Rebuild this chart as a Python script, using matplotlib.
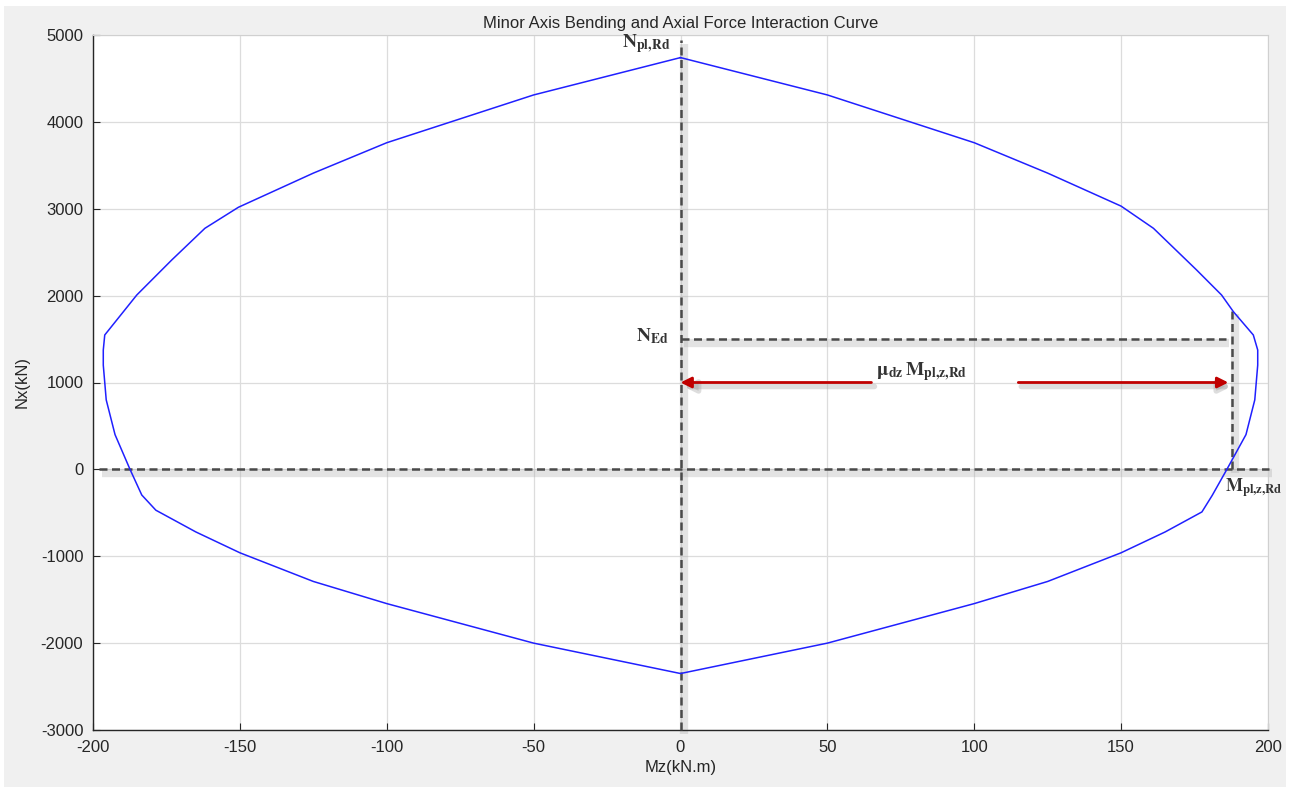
import matplotlib
matplotlib.use("Agg")
import matplotlib.pyplot as plt
from matplotlib.patches import Rectangle
import matplotlib.transforms as mtransforms

# ---- data ----
mz_curve = [0, 50, 100, 125, 150, 161, 175.7, 184.2, 188.2, 195, 196.5, 196.5, 195.5, 192.5, 186,
            181, 177.5, 165, 150, 125, 100, 50, 0,
            -50, -100, -125, -150, -165, -178.6, -183.4, -187.4, -192.5, -195.5, -196.5, -196.5,
            -196, -185.1, -173.2, -161.9, -150.5, -125, -100, -50, 0]
nx_curve = [4740, 4310, 3760, 3410, 3030, 2775, 2295, 2007, 1816, 1547, 1374, 1200, 800, 400, 0,
            -300, -490, -720, -960, -1290, -1545, -2000, -2350,
            -2000, -1545, -1290, -960, -720, -470, -295, 0, 400, 800, 1200, 1374,
            1547, 2007, 2410, 2775, 3017, 3410, 3760, 4310, 4740]

n_ed = 1500
n_arrow = 1000
m_ed_line_end = 185.7
m_vert = 187.8
n_vert_top = 1835
m_arrow_left_start = 65
m_arrow_right_start = 115
m_arrow_right_end = 186.5

x_ticks = [-200, -150, -100, -50, 0, 50, 100, 150, 200]
y_ticks = [-3000, -2000, -1000, 0, 1000, 2000, 3000, 4000, 5000]

title = "Minor Axis Bending and Axial Force Interaction Curve"
xlabel = "Mz(kN.m)"
ylabel = "Nx(kN)"

plt.rcParams['font.family'] = ['Liberation Sans', 'DejaVu Sans']
plt.rcParams['mathtext.fontset'] = 'stix'
plt.rcParams['axes.unicode_minus'] = False

W, H = 1289, 793
fig = plt.figure(figsize=(W / 100, H / 100), dpi=100, facecolor='white')
fig.patches.append(Rectangle((4 / W, 6 / H), (1286 - 4) / W, (787 - 6) / H,
                             transform=fig.transFigure, facecolor='#f0f0f0',
                             edgecolor='none', zorder=-10))
ax = fig.add_axes([93 / W, 1 - 730 / H, (1268 - 93) / W, (730 - 35) / H])
ax.set_facecolor('white')

ax.set_xlim(-200, 200)
ax.set_ylim(-3000, 5000)
ax.set_xticks(x_ticks)
ax.set_yticks(y_ticks)
ax.grid(True, color='#dcdcdc', linewidth=0.9)
ax.set_axisbelow(True)
ax.tick_params(direction='in', length=5, width=0.8, labelsize=12, labelcolor='#262626',
               colors='#262626', top=False, right=False, pad=7)
for s in ['left', 'bottom']:
    ax.spines[s].set_color('#262626')
    ax.spines[s].set_linewidth(1.0)
for s in ['top', 'right']:
    ax.spines[s].set_color('#d0d0d0')
    ax.spines[s].set_linewidth(0.8)

ax.set_title(title, fontsize=12, color='#262626', pad=5)
ax.set_xlabel(xlabel, fontsize=12, color='#262626', labelpad=4)
ax.set_ylabel(ylabel, fontsize=12, color='#262626', labelpad=8)

shadow = mtransforms.offset_copy(ax.transData, fig=fig, x=3, y=-4, units='dots')


def dline(xs, ys):
    ax.plot(xs, ys, color='#b0b0b0', lw=6, alpha=0.35, solid_capstyle='butt',
            transform=shadow, zorder=2, clip_on=False)
    ax.plot(xs, ys, color='#4a4a4a', lw=1.8, linestyle=(0, (3.2, 1.8)), zorder=3,
            clip_on=False)


# axes dashed lines
dline([-198, 200.5], [0, 0])
dline([0, 0], [-3000, 5000 - 60])
dline([0, m_ed_line_end], [n_ed, n_ed])
dline([m_vert, m_vert], [0, n_vert_top])

# curve
ax.plot(mz_curve, nx_curve, color='#2020ff', lw=1.1, zorder=4)

# arrows
for x0, x1 in [(m_arrow_left_start, 0), (m_arrow_right_start, m_arrow_right_end)]:
    ax.annotate('', xy=(x1, n_arrow), xytext=(x0, n_arrow),
                xycoords=shadow, textcoords=shadow,
                arrowprops=dict(arrowstyle='-|>', color='#a0a0a0', lw=4, alpha=0.35,
                                mutation_scale=16, shrinkA=0, shrinkB=0), zorder=4)
    ax.annotate('', xy=(x1, n_arrow), xytext=(x0, n_arrow),
                arrowprops=dict(arrowstyle='-|>', color='#c00000', lw=2,
                                mutation_scale=16, shrinkA=0, shrinkB=0), zorder=5)

lab_color = '#333333'
ax.text(-3.5, 4860, r'$\mathbf{N}_{\mathbf{pl{,}Rd}}$', fontsize=14, color=lab_color,
        ha='right', va='baseline', zorder=6)
ax.text(-4, 1470, r'$\mathbf{N}_{\mathbf{Ed}}$', fontsize=14, color=lab_color,
        ha='right', va='baseline', zorder=6)
ax.text(82, 1080, r'$\mathbf{\mu}_{\mathbf{dz}}\,\mathbf{M}_{\mathbf{pl{,}z{,}Rd}}$', fontsize=14,
        color=lab_color, ha='center', va='baseline', zorder=6)
ax.text(185.3, -260, r'$\mathbf{M}_{\mathbf{pl{,}z{,}Rd}}$', fontsize=13, color=lab_color,
        ha='left', va='baseline', zorder=6, clip_on=False)

fig.savefig('out.png', dpi=100, facecolor=fig.get_facecolor())
